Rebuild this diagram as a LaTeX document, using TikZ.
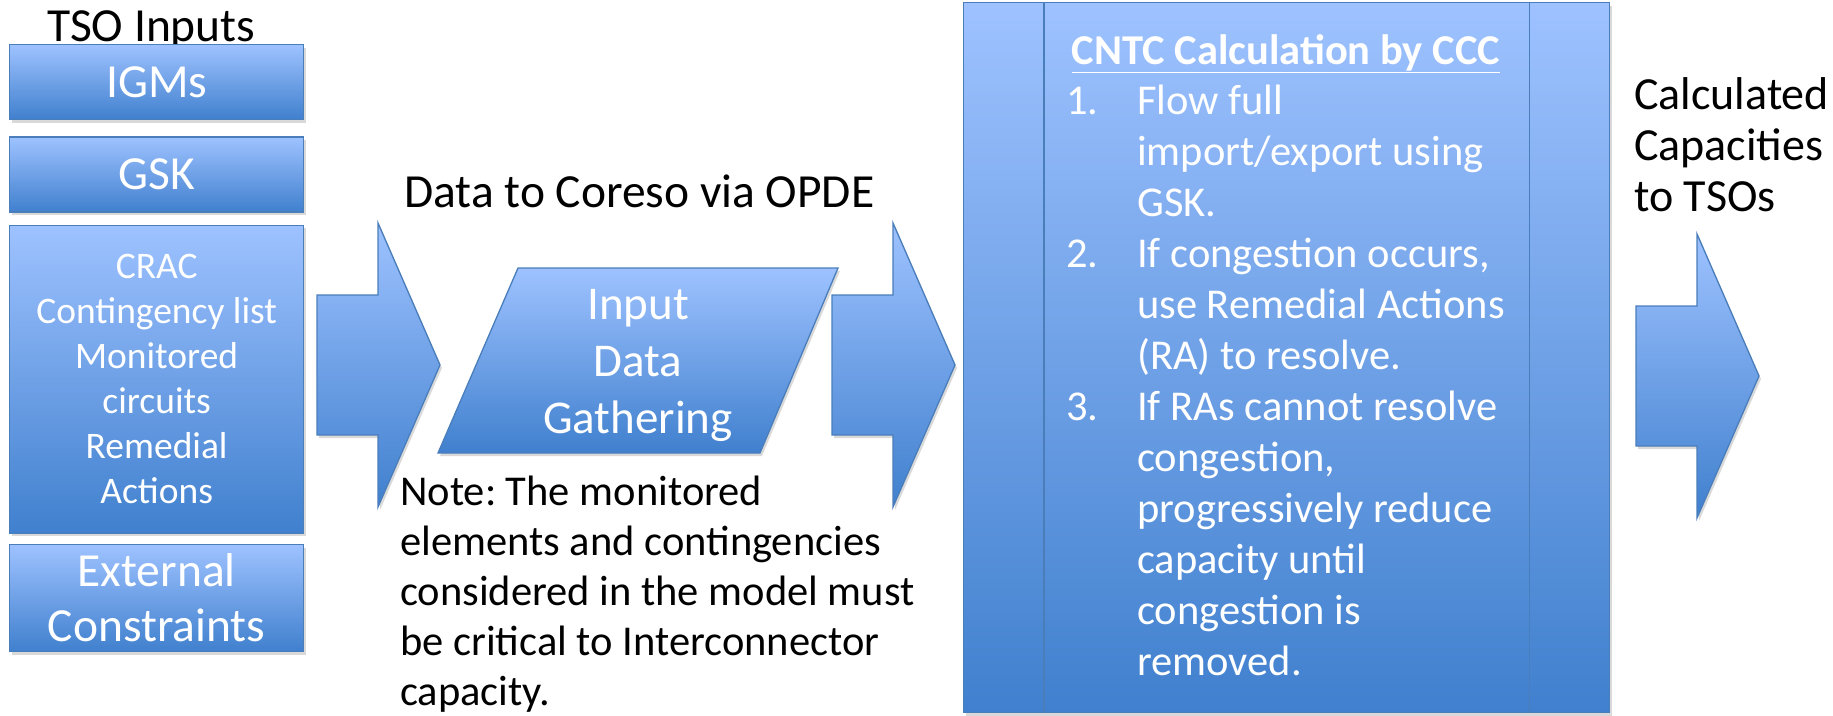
\documentclass[tikz,border=0pt]{standalone}
\usepackage{fontspec}
\setmainfont{Carlito}
\frenchspacing
\usetikzlibrary{shapes,arrows,shadows,calc,positioning}

\definecolor{boxtop}{RGB}{158,194,255}
\definecolor{boxbot}{RGB}{64,128,206}
\definecolor{boxline}{RGB}{74,126,187}

\begin{document}
\begin{tikzpicture}[x=1pt,y=-1pt,node distance=16pt]
\tikzstyle{shade box}=[draw=boxline,line width=1.3pt,top color=boxtop,bottom color=boxbot,
  drop shadow={shadow xshift=2pt,shadow yshift=-3pt,opacity=.3}]
\tikzstyle{input}=[shade box,rectangle,minimum width=294pt,inner sep=0pt,text=white,align=center]
\tikzstyle{label}=[inner sep=0pt,align=left,anchor=base west,font=\fontsize{47.5}{51}\selectfont]
\tikzset{flow/.pic={
  \path[shade box] (0,-70) -- (61,-70) -- (61,-142) -- (123,0) -- (61,142) -- (61,70) -- (0,70) -- cycle;
}}
\useasboundingbox (0,0) rectangle (1833,715);

% TSO inputs
\node[label] (tso) at (47,41) {TSO Inputs};
\node[input,anchor=north west,minimum height=75pt,font=\fontsize{47.5}{55}\selectfont] (igm) at (9,44) {IGMs};
\node[input,below=16pt of igm,minimum height=75pt,font=\fontsize{47.5}{55}\selectfont] (gsk) {GSK};
\node[input,below=12pt of gsk,minimum height=308pt,font=\fontsize{37.5}{45}\selectfont] (crac)
  {CRAC\\Contingency list\\Monitored\\circuits\\Remedial\\Actions};
\node[input,below=10pt of crac,minimum height=107pt,font=\fontsize{47.5}{55}\selectfont] (ext)
  {External\\Constraints};

\pic (in) at (317,365) {flow};

% data gathering
\node[label] (opde) at (404,207) {Data to Coreso via OPDE};
\path[shade box] (518,268) coordinate (g1) -- (838,268) coordinate (g2)
  -- (760,453) coordinate (g3) -- (438,453) coordinate (g4) -- cycle;
\node[inner sep=0pt,anchor=base,text=white,align=center,font=\fontsize{47}{57}\selectfont] (gather) at (638,433)
  {Input\\Data\\Gathering};
\node[label,font=\fontsize{42.5}{50}\selectfont] (note) at (400,705)
  {Note: The monitored\\elements and contingencies\\considered in the model must\\be critical to Interconnector\\capacity.};

\pic (mid) at (832,365) {flow};

% calculation
\node[shade box,rectangle,anchor=north west,minimum width=646pt,minimum height=710pt,inner sep=0pt] (calc) at (963,2) {};
\draw[boxline,line width=1.3pt] ($(calc.north west)+(81,0)$) -- ($(calc.south west)+(81,0)$);
\draw[boxline,line width=1.3pt] ($(calc.north east)+(-81,0)$) -- ($(calc.south east)+(-81,0)$);
\node[inner sep=0pt,anchor=base,text=white,font=\fontsize{42.5}{50}\selectfont\bfseries] (title) at (1286,64)
  {\underline{CNTC Calculation by CCC}};
\node[label,text=white,font=\fontsize{42.5}{51}\selectfont] (steps) at (1066,675)
  {\makebox[71pt][l]{1.}Flow full\\
   \hspace*{71pt}import/export using\\
   \hspace*{71pt}GSK.\\
   \makebox[71pt][l]{2.}If congestion occurs,\\
   \hspace*{71pt}use Remedial Actions\\
   \hspace*{71pt}(RA) to resolve.\\
   \makebox[71pt][l]{3.}If RAs cannot resolve\\
   \hspace*{71pt}congestion,\\
   \hspace*{71pt}progressively reduce\\
   \hspace*{71pt}capacity until\\
   \hspace*{71pt}congestion is\\
   \hspace*{71pt}removed.};

% output
\node[label,font=\fontsize{46}{51}\selectfont] (out) at (1634,211) {Calculated\\Capacities\\to TSOs};
\pic (res) at (1636,376) {flow};
\end{tikzpicture}
\end{document}
